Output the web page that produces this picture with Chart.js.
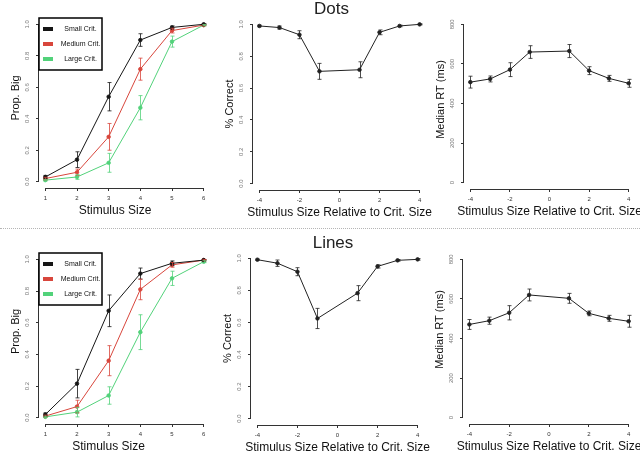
<!DOCTYPE html>
<html>
<head>
<meta charset="utf-8">
<script src="https://cdn.jsdelivr.net/npm/chart.js"></script>
<style>
    html, body { margin: 0; padding: 0; background: #fff; width: 640px; height: 452px; overflow: hidden; position: relative; }
    .panel { position: absolute; }
    #sep { position: absolute; left: 0; top: 228px; width: 640px; height: 0; border-top: 1px dotted #b5b5b5; }
</style>
</head>
<body>
<div id="sep"></div>
<div class="panel" id="p1"><canvas></canvas></div>
<div class="panel" id="p2"><canvas></canvas></div>
<div class="panel" id="p3"><canvas></canvas></div>
<div class="panel" id="p4"><canvas></canvas></div>
<div class="panel" id="p5"><canvas></canvas></div>
<div class="panel" id="p6"><canvas></canvas></div>
<script>
// Achsenwerte
const stimSizes = [1, 2, 3, 4, 5, 6];
const relSizes = [-4, -3, -2, -1, 1, 2, 3, 4];
const stimTicks = [1, 2, 3, 4, 5, 6];
const relTicks = [-4, -2, 0, 2, 4];
const propTicks = [0, 0.2, 0.4, 0.6, 0.8, 1.0];
const rtTicks = [0, 200, 400, 600, 800];
const critLabels = ['Small Crit.', 'Medium Crit.', 'Large Crit.'];

// Dots
const dotsSmall = [0.03, 0.14, 0.54, 0.90, 0.98, 1.00];
const dotsSmallErr = [0.01, 0.05, 0.09, 0.04, 0.01, 0.003];
const dotsMedium = [0.02, 0.06, 0.285, 0.715, 0.96, 0.995];
const dotsMediumErr = [0.008, 0.02, 0.085, 0.07, 0.015, 0.004];
const dotsLarge = [0.01, 0.03, 0.12, 0.47, 0.89, 0.995];
const dotsLargeErr = [0.005, 0.015, 0.06, 0.077, 0.035, 0.004];
const dotsCorrect = [0.99, 0.98, 0.935, 0.705, 0.715, 0.95, 0.99, 1.0];
const dotsCorrectErr = [0.005, 0.01, 0.025, 0.05, 0.05, 0.015, 0.005, 0.003];
const dotsRT = [508, 524, 571, 660, 665, 566, 527, 502];
const dotsRTErr = [30, 15, 35, 32, 33, 20, 15, 20];

// Lines
const linesSmall = [0.02, 0.215, 0.675, 0.91, 0.975, 0.995];
const linesSmallErr = [0.01, 0.09, 0.1, 0.035, 0.015, 0.004];
const linesMedium = [0.01, 0.07, 0.36, 0.81, 0.965, 0.995];
const linesMediumErr = [0.006, 0.04, 0.095, 0.065, 0.015, 0.004];
const linesLarge = [0.005, 0.035, 0.14, 0.54, 0.88, 0.985];
const linesLargeErr = [0.004, 0.03, 0.055, 0.11, 0.045, 0.006];
const linesCorrect = [0.992, 0.97, 0.917, 0.625, 0.783, 0.95, 0.988, 0.994];
const linesCorrectErr = [0.004, 0.02, 0.025, 0.063, 0.047, 0.01, 0.005, 0.005];
const linesRT = [471, 490, 530, 620, 603, 527, 502, 487];
const linesRTErr = [25, 18, 36, 30, 25, 12, 15, 30];

const FONT = '"Liberation Sans", Arial, Helvetica, sans-serif';
const critColors = ['#151515', '#d8463c', '#52d27a'];

// Fehlerbalken aus dataset.err zeichnen
const errorBars = {
    id: 'errorBars',
    afterDatasetsDraw(chart) {
        const ctx = chart.ctx;
        const xs = chart.scales.x, ys = chart.scales.y;
        chart.data.datasets.forEach(ds => {
            if (!ds.err) return;
            ctx.save();
            ctx.strokeStyle = ds.borderColor;
            ctx.globalAlpha = 0.8;
            ctx.lineWidth = 1;
            ds.data.forEach((p, j) => {
                const x = Math.round(xs.getPixelForValue(p.x)) + 0.5;
                const y1 = ys.getPixelForValue(p.y - ds.err[j]);
                const y2 = ys.getPixelForValue(p.y + ds.err[j]);
                ctx.beginPath();
                ctx.moveTo(x, y1); ctx.lineTo(x, y2);
                ctx.moveTo(x - 2, y1); ctx.lineTo(x + 2, y1);
                ctx.moveTo(x - 2, y2); ctx.lineTo(x + 2, y2);
                ctx.stroke();
            });
            ctx.restore();
        });
    }
};

// Achsenlinien im R-Stil, Titel, Legende
const rStyle = {
    id: 'rStyle',
    afterDraw(chart, args, opts) {
        const ctx = chart.ctx;
        const a = chart.chartArea;
        const xs = chart.scales.x, ys = chart.scales.y;
        const xt = xs.ticks, yt = ys.ticks;
        ctx.save();
        ctx.strokeStyle = '#333';
        ctx.lineWidth = 1;
        ctx.beginPath();
        ctx.moveTo(xs.getPixelForValue(xt[0].value), Math.round(a.bottom) + 0.5);
        ctx.lineTo(xs.getPixelForValue(xt[xt.length - 1].value), Math.round(a.bottom) + 0.5);
        ctx.moveTo(Math.round(a.left) - 0.5, ys.getPixelForValue(yt[0].value));
        ctx.lineTo(Math.round(a.left) - 0.5, ys.getPixelForValue(yt[yt.length - 1].value));
        ctx.stroke();

        ctx.fillStyle = '#111';
        ctx.textAlign = 'center';
        ctx.textBaseline = 'middle';
        ctx.font = '12px ' + FONT;
        ctx.fillText(opts.xTitle, (a.left + a.right) / 2 + (opts.xDx || 0), a.bottom + 22.5);

        ctx.save();
        ctx.translate(a.left - 23, (a.top + a.bottom) / 2 + (opts.yDy || 0));
        ctx.rotate(-Math.PI / 2);
        ctx.font = '11px ' + FONT;
        ctx.fillText(opts.yTitle, 0, 0);
        ctx.restore();

        if (opts.main) {
            ctx.font = '17px ' + FONT;
            ctx.textBaseline = 'alphabetic';
            ctx.fillStyle = '#222';
            ctx.fillText(opts.main, (a.left + a.right) / 2 + opts.mainDx, a.top - 4);
        }

        if (opts.legend) {
            const L = a.left, T = a.top;
            ctx.fillStyle = '#fff';
            ctx.fillRect(L, T, 63, 52);
            ctx.strokeStyle = '#000';
            ctx.lineWidth = 1.5;
            ctx.strokeRect(L, T, 63, 52);
            ctx.font = '7px ' + FONT;
            ctx.textBaseline = 'middle';
            chart.data.datasets.forEach((ds, i) => {
                const cy = T + 11 + i * 15;
                ctx.fillStyle = ds.borderColor;
                ctx.fillRect(L + 4, cy - 2, 10, 4);
                ctx.fillStyle = '#111';
                ctx.fillText(ds.label, L + 41.5, cy);
            });
        }
        ctx.restore();
    }
};

function series(label, xVals, yVals, err, color) {
    return {
        label: label,
        data: xVals.map((x, i) => ({ x: x, y: yVals[i] })),
        err: err,
        borderColor: color,
        backgroundColor: color,
        borderWidth: 1,
        pointRadius: 1.8,
        pointBorderWidth: 0.8,
        pointBackgroundColor: color,
        tension: 0,
        fill: false
    };
}

function makePanel(p) {
    const [L, T, R, B] = p.area;
    const wrap = document.getElementById(p.id);
    const w = R - L + 50, h = B - T + 56;
    wrap.style.left = (L - 40) + 'px';
    wrap.style.top = (T - 22) + 'px';
    wrap.style.width = w + 'px';
    wrap.style.height = h + 'px';
    const canvas = wrap.querySelector('canvas');
    canvas.width = w; canvas.height = h;
    canvas.style.width = w + 'px'; canvas.style.height = h + 'px';

    return new Chart(canvas.getContext('2d'), {
        type: 'line',
        data: { datasets: p.datasets },
        options: {
            responsive: false,
            animation: false,
            devicePixelRatio: 1,
            layout: { padding: { left: 0, top: 22, right: 10, bottom: 0 } },
            plugins: {
                legend: { display: false },
                tooltip: { enabled: false },
                rStyle: {
                    xTitle: p.xTitle, yTitle: p.yTitle, main: p.main, legend: p.legend,
                    xDx: p.xDx, yDy: p.yDy, mainDx: p.mainDx
                }
            },
            scales: {
                x: {
                    type: 'linear',
                    min: p.xMin, max: p.xMax,
                    afterFit: s => { s.height = 34; },
                    afterBuildTicks: s => { s.ticks = p.xTicks.map(v => ({ value: v })); },
                    grid: { display: true, drawOnChartArea: false, drawTicks: true, tickLength: 3, color: '#333' },
                    border: { display: false },
                    ticks: { font: { size: 6, family: FONT }, color: '#333', padding: 4, maxRotation: 0, autoSkip: false, callback: v => String(v) }
                },
                y: {
                    type: 'linear',
                    min: p.yMin, max: p.yMax,
                    afterFit: s => { s.width = 40; },
                    afterBuildTicks: s => { s.ticks = p.yTicks.map(v => ({ value: v })); },
                    grid: { display: true, drawOnChartArea: false, drawTicks: true, tickLength: 3, color: '#333' },
                    border: { display: false },
                    ticks: { font: { size: 6, family: FONT }, color: '#777', padding: 4, minRotation: 90, maxRotation: 90, crossAlign: 'center', autoSkip: false, callback: p.yFmt }
                }
            }
        },
        plugins: [errorBars, rStyle]
    });
}

const propFmt = v => v.toFixed(1);
const rtFmt = v => String(v);

// Dots
makePanel({
    id: 'p1', area: [39, 18, 210, 188], legend: true, xDx: -9.5, yDy: -5,
    datasets: [
        series(critLabels[0], stimSizes, dotsSmall, dotsSmallErr, critColors[0]),
        series(critLabels[1], stimSizes, dotsMedium, dotsMediumErr, critColors[1]),
        series(critLabels[2], stimSizes, dotsLarge, dotsLargeErr, critColors[2])
    ],
    xMin: 0.8, xMax: 6.2, xTicks: stimTicks, yMin: -0.04, yMax: 1.04, yTicks: propTicks, yFmt: propFmt,
    xTitle: 'Stimulus Size', yTitle: 'Prop. Big'
});
makePanel({
    id: 'p2', area: [253, 18, 426, 190], main: 'Dots', mainDx: -8,
    datasets: [series('Dots', relSizes, dotsCorrect, dotsCorrectErr, '#222')],
    xMin: -4.32, xMax: 4.32, xTicks: relTicks, yMin: -0.04, yMax: 1.04, yTicks: propTicks, yFmt: propFmt,
    xTitle: 'Stimulus Size Relative to Crit. Size', yTitle: '% Correct'
});
makePanel({
    id: 'p3', area: [464, 18, 635, 189], yDy: -4,
    datasets: [series('Dots', relSizes, dotsRT, dotsRTErr, '#222')],
    xMin: -4.32, xMax: 4.32, xTicks: relTicks, yMin: -32, yMax: 832, yTicks: rtTicks, yFmt: rtFmt,
    xTitle: 'Stimulus Size Relative to Crit. Size', yTitle: 'Median RT (ms)'
});

// Lines
makePanel({
    id: 'p4', area: [39, 253, 210, 424], legend: true, xDx: -16, yDy: -7,
    datasets: [
        series(critLabels[0], stimSizes, linesSmall, linesSmallErr, critColors[0]),
        series(critLabels[1], stimSizes, linesMedium, linesMediumErr, critColors[1]),
        series(critLabels[2], stimSizes, linesLarge, linesLargeErr, critColors[2])
    ],
    xMin: 0.8, xMax: 6.2, xTicks: stimTicks, yMin: -0.04, yMax: 1.04, yTicks: propTicks, yFmt: propFmt,
    xTitle: 'Stimulus Size', yTitle: 'Prop. Big'
});
makePanel({
    id: 'p5', area: [251, 252, 424, 425], main: 'Lines', mainDx: -4.5,
    datasets: [series('Lines', relSizes, linesCorrect, linesCorrectErr, '#222')],
    xMin: -4.32, xMax: 4.32, xTicks: relTicks, yMin: -0.04, yMax: 1.04, yTicks: propTicks, yFmt: propFmt,
    xTitle: 'Stimulus Size Relative to Crit. Size', yTitle: '% Correct'
});
makePanel({
    id: 'p6', area: [463, 253, 635, 424], yDy: -9,
    datasets: [series('Lines', relSizes, linesRT, linesRTErr, '#222')],
    xMin: -4.32, xMax: 4.32, xTicks: relTicks, yMin: -32, yMax: 832, yTicks: rtTicks, yFmt: rtFmt,
    xTitle: 'Stimulus Size Relative to Crit. Size', yTitle: 'Median RT (ms)'
});
</script>
</body>
</html>
